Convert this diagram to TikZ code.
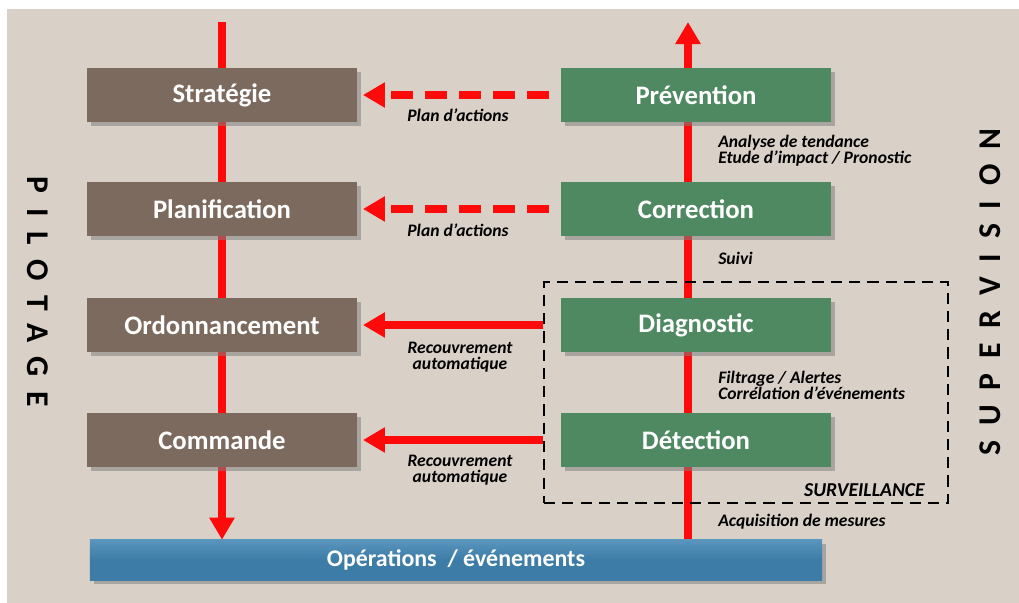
\documentclass[tikz,border=0pt]{standalone}
\usepackage{fontspec}
\setmainfont{Carlito}
\newfontfamily\widefont[LetterSpace=47]{Carlito}
\usetikzlibrary{arrows.meta,shadows,positioning}
\pgfdeclarelayer{panel}
\pgfdeclarelayer{lines}
\pgfsetlayers{panel,lines,main}
\definecolor{panelbg}{HTML}{D9D0C7}
\definecolor{brownbox}{HTML}{7C6A5E}
\definecolor{greenbox}{HTML}{4F8962}
\definecolor{bluebox}{HTML}{3C7CA6}
\definecolor{bluetop}{HTML}{5A95BD}
\definecolor{redarrow}{HTML}{FF0A0A}
\begin{document}
\begin{tikzpicture}[x=0.025cm,y=-0.025cm,
	pilot/.style={fill=brownbox, text=white, font=\fontsize{19}{21}\selectfont\bfseries,
		minimum width=6.75cm, minimum height=1.35cm,
		drop shadow={opacity=0.55, shadow xshift=3pt, shadow yshift=-3pt}},
	superv/.style={pilot, fill=greenbox},
	redline/.style={line width=5pt, redarrow},
	tip/.style={-{Triangle[length=0.55cm,width=0.6cm]}},
	note/.style={font=\fontsize{12.5}{11.5}\selectfont\bfseries\itshape, align=center, inner sep=0pt}]
	\useasboundingbox (0,0) rectangle (1019,603);
	\begin{pgfonlayer}{panel}
		\fill[white] (0,0) rectangle (1019,603);
		\fill[panelbg] (7,9) rectangle (1019,603);
	\end{pgfonlayer}
	% pilotage
	\node[pilot] (strat) at (222,95) {Stratégie};
	\node[pilot] (plan) at (222,209) {Planification};
	\node[pilot] (ordo) at (222,325) {Ordonnancement};
	\node[pilot] (cmd) at (222,440) {Commande};
	% supervision
	\node[superv] (prev) at (696,95) {Prévention};
	\node[superv] (corr) at (696,209) {Correction};
	\node[superv] (diag) at (696,325) {Diagnostic};
	\node[superv] (detect) at (696,440) {Détection};
	\node[pilot, top color=bluetop, bottom color=bluebox, middle color=bluebox, minimum width=18.3cm, minimum height=1cm,
		font=\fontsize{17}{19}\selectfont\bfseries] (ops) at (456,560) {Opérations~~/ événements};
	\node[draw, line width=1.3pt, dash pattern=on 8pt off 5pt, minimum width=10.1cm, minimum height=5.525cm] (surv) at (746,392.5) {};
	\coordinate (topL) at (222,22);
	\coordinate (topR) at (688,22);
	\begin{pgfonlayer}{lines}
		\draw[redline, tip] (topL) -- (ops.north -| topL);
		\draw[redline, tip] (ops.north -| topR) -- (topR);
	\end{pgfonlayer}
	\draw[redline, tip, dash pattern=on 0.55cm off 0.3cm] ([xshift=-0.3cm]prev.west) -- ([xshift=4pt]strat.east);
	\draw[redline, tip, dash pattern=on 0.55cm off 0.3cm] ([xshift=-0.3cm]corr.west) -- ([xshift=4pt]plan.east);
	\draw[redline, tip] (diag -| surv.west) -- ([xshift=4pt]ordo.east);
	\draw[redline, tip] (detect -| surv.west) -- ([xshift=4pt]cmd.east);
	% labels
	\node[note] (pa1) at (458,115) {Plan d’actions};
	\node[note] (pa2) at (458,230) {Plan d’actions};
	\node[note] (rec1) at (460,357) {Recouvrement\\automatique};
	\node[note] (rec2) at (460,470) {Recouvrement\\automatique};
	\node[note, anchor=west, align=left] (ana) at (718,151) {Analyse de tendance\\Etude d’impact / Pronostic};
	\node[note, anchor=west] (suivi) at (718,258) {Suivi};
	\node[note, anchor=west, align=left] (filt) at (718,385) {Filtrage / Alertes\\Corrélation d’événements};
	\node[note, anchor=east, font=\fontsize{14}{15}\selectfont\bfseries\itshape] (survlbl) at (925,490) {SURVEILLANCE};
	\node[note, anchor=west] (acq) at (718,522) {Acquisition de mesures};
	\node[rotate=-90, font=\widefont\fontsize{22.5}{25}\selectfont\bfseries] (pilotage) at (38,292) {PILOTAGE};
	\node[rotate=90, font=\widefont\fontsize{22.5}{25}\selectfont\bfseries] (supervision) at (990,292) {SUPERVISION};
\end{tikzpicture}
\end{document}
